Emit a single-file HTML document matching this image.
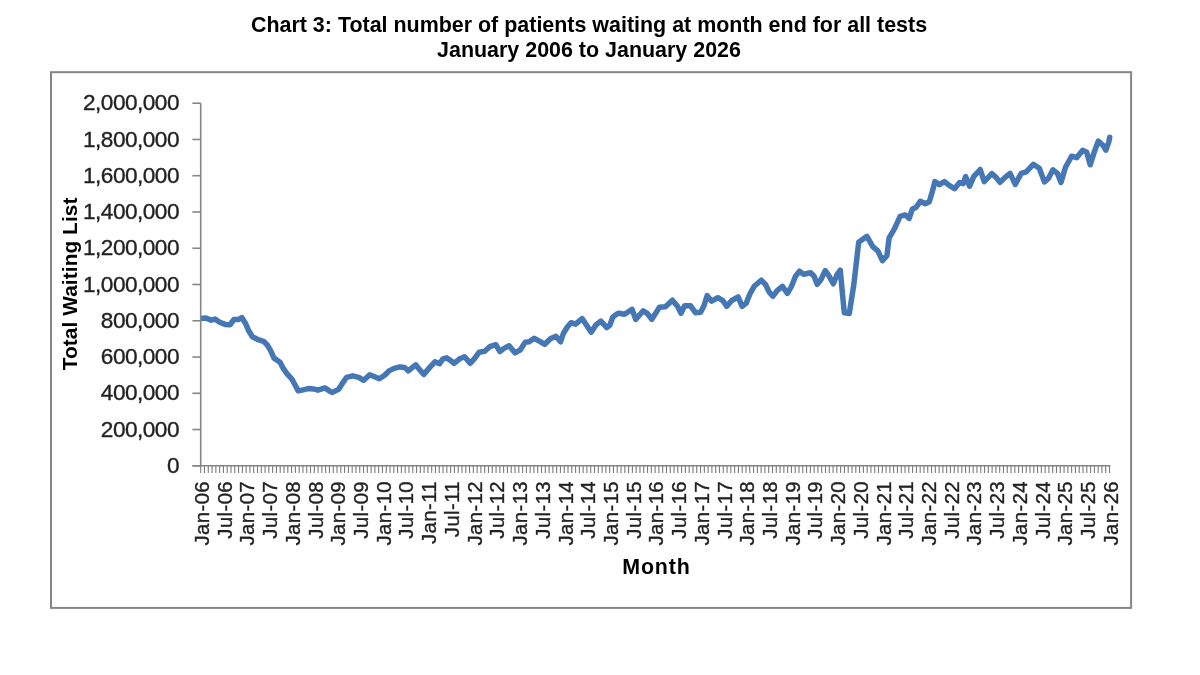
<!DOCTYPE html>
<html><head><meta charset="utf-8"><style>
html,body{margin:0;padding:0;background:#fff;width:1200px;height:675px;overflow:hidden}
svg{display:block;font-family:"Liberation Sans",sans-serif;filter:blur(0.45px)}
</style></head><body>
<svg width="1200" height="675" viewBox="0 0 1200 675">
<text x="589" y="31.8" text-anchor="middle" font-weight="bold" font-size="21.45" letter-spacing="0" fill="#000">Chart 3: Total number of patients waiting at month end for all tests</text>
<text x="589" y="56.8" text-anchor="middle" font-weight="bold" font-size="21.45" letter-spacing="0" fill="#000">January 2006 to January 2026</text>
<rect x="51" y="72.2" width="1080.1" height="535.7" fill="none" stroke="#868686" stroke-width="2"/>
<clipPath id="pc"><rect x="200.7" y="80" width="960" height="400"/></clipPath>
<path d="M200.5 318.6 L206.1 317.9 L211.1 320.2 L215.1 319.1 L219.7 322.2 L225.2 324.4 L230.2 324.7 L233.8 319.6 L238.3 319.6 L241.8 317.6 L245.4 323.2 L248.4 330.2 L252.4 336.8 L257.4 339.3 L263.5 341.3 L267.5 345.3 L270.5 350.4 L274.0 358.1 L280.1 362.2 L283.1 368.2 L287.1 373.8 L291.7 378.8 L294.7 384.3 L298.2 390.9 L303.2 389.9 L308.3 388.6 L313.3 388.9 L317.9 390.2 L324.9 387.9 L329.4 390.9 L332.5 392.4 L338.5 389.4 L342.5 383.3 L346.6 377.3 L352.6 375.8 L358.7 377.3 L363.7 380.3 L369.7 374.8 L375.8 377.3 L379.3 378.8 L385.0 375.0 L389.0 370.9 L394.1 368.4 L400.1 366.9 L404.6 367.4 L408.2 370.9 L415.7 364.8 L419.8 369.9 L423.8 374.4 L429.3 367.9 L434.9 361.8 L439.4 363.8 L442.9 358.8 L446.5 357.8 L450.5 360.3 L454.0 363.3 L459.6 358.8 L464.6 356.8 L470.1 363.3 L474.7 358.3 L479.2 352.2 L484.7 351.2 L489.8 346.7 L495.8 344.7 L499.9 351.5 L504.0 348.4 L509.1 345.8 L515.1 352.9 L520.2 349.9 L525.2 342.3 L529.2 341.8 L534.3 338.3 L539.8 341.3 L544.8 344.3 L550.4 338.8 L555.9 336.3 L560.5 341.8 L563.5 333.2 L567.5 326.7 L571.0 322.7 L575.6 324.2 L582.1 318.6 L586.6 325.2 L591.2 332.2 L595.7 325.2 L600.8 321.2 L606.8 327.7 L609.8 325.2 L612.8 317.1 L617.4 313.6 L619.0 313.3 L624.6 314.3 L632.1 309.3 L635.7 319.4 L643.2 310.8 L647.2 313.3 L651.8 319.4 L656.3 312.3 L659.3 307.3 L665.4 306.8 L672.4 300.2 L677.5 306.3 L681.0 313.3 L684.5 305.8 L690.6 305.8 L695.6 312.8 L700.6 312.3 L703.7 306.3 L707.2 295.7 L711.7 301.2 L717.8 297.7 L722.8 300.7 L726.8 306.3 L731.9 300.2 L733.0 299.9 L738.1 296.9 L742.1 306.4 L746.1 303.4 L750.2 293.3 L754.2 286.3 L761.2 280.2 L765.3 284.3 L769.3 292.3 L772.8 296.3 L777.4 290.3 L782.4 286.3 L787.4 293.3 L791.5 286.3 L795.5 276.2 L799.5 271.2 L803.6 274.2 L810.6 272.7 L814.1 276.2 L817.2 284.3 L821.2 279.2 L825.2 270.7 L829.2 276.2 L833.3 283.8 L836.8 275.2 L840.3 270.2 L842.3 292.3 L844.3 312.8 L849.3 313.5 L853.9 284.0 L858.7 242.2 L866.9 236.3 L872.8 246.7 L878.0 251.1 L882.4 260.7 L886.9 255.6 L889.1 237.8 L894.3 229.1 L900.1 216.4 L905.2 214.9 L909.2 218.4 L912.2 209.3 L916.2 207.3 L920.3 201.3 L925.3 203.8 L929.3 201.8 L932.4 191.2 L934.9 181.6 L939.4 184.6 L944.4 181.6 L949.5 185.7 L954.5 188.7 L959.6 182.6 L963.1 183.6 L965.6 176.6 L969.6 186.2 L973.7 176.6 L980.2 169.5 L984.2 181.6 L991.8 173.6 L995.8 177.1 L1000.0 182.4 L1005.1 177.4 L1010.1 173.4 L1015.2 184.4 L1021.2 173.4 L1026.2 171.9 L1033.3 164.3 L1039.3 168.3 L1044.4 181.9 L1048.4 178.4 L1052.9 169.8 L1057.5 173.4 L1061.0 182.4 L1065.5 167.3 L1071.6 156.2 L1076.6 157.7 L1082.7 150.2 L1086.7 152.2 L1090.2 164.8 L1094.2 152.2 L1098.3 141.1 L1102.8 145.2 L1105.8 150.2 L1108.9 141.6 L1109.7 137.3" clip-path="url(#pc)" fill="none" stroke="#4677B5" stroke-width="5.5" stroke-linejoin="round" stroke-linecap="round"/>
<line x1="200.7" y1="103.2" x2="200.7" y2="465.8" stroke="#868686" stroke-width="1.6"/>
<line x1="192.4" y1="465.80" x2="200.7" y2="465.80" stroke="#868686" stroke-width="1.6"/>
<text x="179.0" y="472.94" text-anchor="end" font-size="22.6" letter-spacing="-0.5" fill="#222" stroke="#222" stroke-width="0.35">0</text>
<line x1="192.4" y1="429.54" x2="200.7" y2="429.54" stroke="#868686" stroke-width="1.6"/>
<text x="179.0" y="436.68" text-anchor="end" font-size="22.6" letter-spacing="-0.5" fill="#222" stroke="#222" stroke-width="0.35">200,000</text>
<line x1="192.4" y1="393.28" x2="200.7" y2="393.28" stroke="#868686" stroke-width="1.6"/>
<text x="179.0" y="400.42" text-anchor="end" font-size="22.6" letter-spacing="-0.5" fill="#222" stroke="#222" stroke-width="0.35">400,000</text>
<line x1="192.4" y1="357.02" x2="200.7" y2="357.02" stroke="#868686" stroke-width="1.6"/>
<text x="179.0" y="364.16" text-anchor="end" font-size="22.6" letter-spacing="-0.5" fill="#222" stroke="#222" stroke-width="0.35">600,000</text>
<line x1="192.4" y1="320.76" x2="200.7" y2="320.76" stroke="#868686" stroke-width="1.6"/>
<text x="179.0" y="327.90" text-anchor="end" font-size="22.6" letter-spacing="-0.5" fill="#222" stroke="#222" stroke-width="0.35">800,000</text>
<line x1="192.4" y1="284.50" x2="200.7" y2="284.50" stroke="#868686" stroke-width="1.6"/>
<text x="179.0" y="291.64" text-anchor="end" font-size="22.6" letter-spacing="-0.5" fill="#222" stroke="#222" stroke-width="0.35">1,000,000</text>
<line x1="192.4" y1="248.24" x2="200.7" y2="248.24" stroke="#868686" stroke-width="1.6"/>
<text x="179.0" y="255.38" text-anchor="end" font-size="22.6" letter-spacing="-0.5" fill="#222" stroke="#222" stroke-width="0.35">1,200,000</text>
<line x1="192.4" y1="211.98" x2="200.7" y2="211.98" stroke="#868686" stroke-width="1.6"/>
<text x="179.0" y="219.12" text-anchor="end" font-size="22.6" letter-spacing="-0.5" fill="#222" stroke="#222" stroke-width="0.35">1,400,000</text>
<line x1="192.4" y1="175.72" x2="200.7" y2="175.72" stroke="#868686" stroke-width="1.6"/>
<text x="179.0" y="182.86" text-anchor="end" font-size="22.6" letter-spacing="-0.5" fill="#222" stroke="#222" stroke-width="0.35">1,600,000</text>
<line x1="192.4" y1="139.46" x2="200.7" y2="139.46" stroke="#868686" stroke-width="1.6"/>
<text x="179.0" y="146.60" text-anchor="end" font-size="22.6" letter-spacing="-0.5" fill="#222" stroke="#222" stroke-width="0.35">1,800,000</text>
<line x1="192.4" y1="103.20" x2="200.7" y2="103.20" stroke="#868686" stroke-width="1.6"/>
<text x="179.0" y="110.34" text-anchor="end" font-size="22.6" letter-spacing="-0.5" fill="#222" stroke="#222" stroke-width="0.35">2,000,000</text>
<line x1="192.4" y1="465.8" x2="1110.4" y2="465.8" stroke="#868686" stroke-width="1.6"/>
<path d="M200.70 465.8V473M204.49 465.8V473M208.27 465.8V473M212.06 465.8V473M215.85 465.8V473M219.63 465.8V473M223.42 465.8V473M227.21 465.8V473M230.99 465.8V473M234.78 465.8V473M238.57 465.8V473M242.35 465.8V473M246.14 465.8V473M249.93 465.8V473M253.71 465.8V473M257.50 465.8V473M261.29 465.8V473M265.07 465.8V473M268.86 465.8V473M272.65 465.8V473M276.43 465.8V473M280.22 465.8V473M284.01 465.8V473M287.79 465.8V473M291.58 465.8V473M295.37 465.8V473M299.15 465.8V473M302.94 465.8V473M306.73 465.8V473M310.51 465.8V473M314.30 465.8V473M318.09 465.8V473M321.87 465.8V473M325.66 465.8V473M329.45 465.8V473M333.23 465.8V473M337.02 465.8V473M340.81 465.8V473M344.59 465.8V473M348.38 465.8V473M352.17 465.8V473M355.95 465.8V473M359.74 465.8V473M363.53 465.8V473M367.31 465.8V473M371.10 465.8V473M374.89 465.8V473M378.67 465.8V473M382.46 465.8V473M386.25 465.8V473M390.03 465.8V473M393.82 465.8V473M397.61 465.8V473M401.39 465.8V473M405.18 465.8V473M408.97 465.8V473M412.75 465.8V473M416.54 465.8V473M420.33 465.8V473M424.11 465.8V473M427.90 465.8V473M431.69 465.8V473M435.47 465.8V473M439.26 465.8V473M443.05 465.8V473M446.83 465.8V473M450.62 465.8V473M454.41 465.8V473M458.19 465.8V473M461.98 465.8V473M465.77 465.8V473M469.55 465.8V473M473.34 465.8V473M477.13 465.8V473M480.91 465.8V473M484.70 465.8V473M488.49 465.8V473M492.27 465.8V473M496.06 465.8V473M499.85 465.8V473M503.63 465.8V473M507.42 465.8V473M511.21 465.8V473M514.99 465.8V473M518.78 465.8V473M522.57 465.8V473M526.35 465.8V473M530.14 465.8V473M533.93 465.8V473M537.71 465.8V473M541.50 465.8V473M545.29 465.8V473M549.07 465.8V473M552.86 465.8V473M556.65 465.8V473M560.43 465.8V473M564.22 465.8V473M568.01 465.8V473M571.79 465.8V473M575.58 465.8V473M579.37 465.8V473M583.15 465.8V473M586.94 465.8V473M590.73 465.8V473M594.51 465.8V473M598.30 465.8V473M602.09 465.8V473M605.87 465.8V473M609.66 465.8V473M613.45 465.8V473M617.23 465.8V473M621.02 465.8V473M624.81 465.8V473M628.59 465.8V473M632.38 465.8V473M636.17 465.8V473M639.95 465.8V473M643.74 465.8V473M647.53 465.8V473M651.31 465.8V473M655.10 465.8V473M658.89 465.8V473M662.67 465.8V473M666.46 465.8V473M670.25 465.8V473M674.03 465.8V473M677.82 465.8V473M681.61 465.8V473M685.39 465.8V473M689.18 465.8V473M692.97 465.8V473M696.75 465.8V473M700.54 465.8V473M704.33 465.8V473M708.11 465.8V473M711.90 465.8V473M715.69 465.8V473M719.47 465.8V473M723.26 465.8V473M727.05 465.8V473M730.83 465.8V473M734.62 465.8V473M738.41 465.8V473M742.19 465.8V473M745.98 465.8V473M749.77 465.8V473M753.55 465.8V473M757.34 465.8V473M761.13 465.8V473M764.91 465.8V473M768.70 465.8V473M772.49 465.8V473M776.27 465.8V473M780.06 465.8V473M783.85 465.8V473M787.63 465.8V473M791.42 465.8V473M795.21 465.8V473M798.99 465.8V473M802.78 465.8V473M806.57 465.8V473M810.35 465.8V473M814.14 465.8V473M817.93 465.8V473M821.71 465.8V473M825.50 465.8V473M829.29 465.8V473M833.07 465.8V473M836.86 465.8V473M840.65 465.8V473M844.43 465.8V473M848.22 465.8V473M852.01 465.8V473M855.79 465.8V473M859.58 465.8V473M863.37 465.8V473M867.15 465.8V473M870.94 465.8V473M874.73 465.8V473M878.51 465.8V473M882.30 465.8V473M886.09 465.8V473M889.87 465.8V473M893.66 465.8V473M897.45 465.8V473M901.23 465.8V473M905.02 465.8V473M908.81 465.8V473M912.59 465.8V473M916.38 465.8V473M920.17 465.8V473M923.95 465.8V473M927.74 465.8V473M931.53 465.8V473M935.31 465.8V473M939.10 465.8V473M942.89 465.8V473M946.67 465.8V473M950.46 465.8V473M954.25 465.8V473M958.03 465.8V473M961.82 465.8V473M965.61 465.8V473M969.39 465.8V473M973.18 465.8V473M976.97 465.8V473M980.75 465.8V473M984.54 465.8V473M988.33 465.8V473M992.11 465.8V473M995.90 465.8V473M999.69 465.8V473M1003.47 465.8V473M1007.26 465.8V473M1011.05 465.8V473M1014.83 465.8V473M1018.62 465.8V473M1022.41 465.8V473M1026.19 465.8V473M1029.98 465.8V473M1033.77 465.8V473M1037.55 465.8V473M1041.34 465.8V473M1045.13 465.8V473M1048.91 465.8V473M1052.70 465.8V473M1056.49 465.8V473M1060.27 465.8V473M1064.06 465.8V473M1067.85 465.8V473M1071.63 465.8V473M1075.42 465.8V473M1079.21 465.8V473M1082.99 465.8V473M1086.78 465.8V473M1090.57 465.8V473M1094.35 465.8V473M1098.14 465.8V473M1101.93 465.8V473M1105.71 465.8V473M1109.50 465.8V473" stroke="#7a7a7a" stroke-width="1.1"/>
<text transform="translate(209.00,481) rotate(-90)" text-anchor="end" font-size="20.3" letter-spacing="0.4" fill="#222" stroke="#222" stroke-width="0.35">Jan-06</text>
<text transform="translate(231.72,481) rotate(-90)" text-anchor="end" font-size="20.3" letter-spacing="0.4" fill="#222" stroke="#222" stroke-width="0.35">Jul-06</text>
<text transform="translate(254.44,481) rotate(-90)" text-anchor="end" font-size="20.3" letter-spacing="0.4" fill="#222" stroke="#222" stroke-width="0.35">Jan-07</text>
<text transform="translate(277.16,481) rotate(-90)" text-anchor="end" font-size="20.3" letter-spacing="0.4" fill="#222" stroke="#222" stroke-width="0.35">Jul-07</text>
<text transform="translate(299.88,481) rotate(-90)" text-anchor="end" font-size="20.3" letter-spacing="0.4" fill="#222" stroke="#222" stroke-width="0.35">Jan-08</text>
<text transform="translate(322.60,481) rotate(-90)" text-anchor="end" font-size="20.3" letter-spacing="0.4" fill="#222" stroke="#222" stroke-width="0.35">Jul-08</text>
<text transform="translate(345.32,481) rotate(-90)" text-anchor="end" font-size="20.3" letter-spacing="0.4" fill="#222" stroke="#222" stroke-width="0.35">Jan-09</text>
<text transform="translate(368.04,481) rotate(-90)" text-anchor="end" font-size="20.3" letter-spacing="0.4" fill="#222" stroke="#222" stroke-width="0.35">Jul-09</text>
<text transform="translate(390.76,481) rotate(-90)" text-anchor="end" font-size="20.3" letter-spacing="0.4" fill="#222" stroke="#222" stroke-width="0.35">Jan-10</text>
<text transform="translate(413.48,481) rotate(-90)" text-anchor="end" font-size="20.3" letter-spacing="0.4" fill="#222" stroke="#222" stroke-width="0.35">Jul-10</text>
<text transform="translate(436.20,481) rotate(-90)" text-anchor="end" font-size="20.3" letter-spacing="0.4" fill="#222" stroke="#222" stroke-width="0.35">Jan-11</text>
<text transform="translate(458.92,481) rotate(-90)" text-anchor="end" font-size="20.3" letter-spacing="0.4" fill="#222" stroke="#222" stroke-width="0.35">Jul-11</text>
<text transform="translate(481.64,481) rotate(-90)" text-anchor="end" font-size="20.3" letter-spacing="0.4" fill="#222" stroke="#222" stroke-width="0.35">Jan-12</text>
<text transform="translate(504.36,481) rotate(-90)" text-anchor="end" font-size="20.3" letter-spacing="0.4" fill="#222" stroke="#222" stroke-width="0.35">Jul-12</text>
<text transform="translate(527.08,481) rotate(-90)" text-anchor="end" font-size="20.3" letter-spacing="0.4" fill="#222" stroke="#222" stroke-width="0.35">Jan-13</text>
<text transform="translate(549.80,481) rotate(-90)" text-anchor="end" font-size="20.3" letter-spacing="0.4" fill="#222" stroke="#222" stroke-width="0.35">Jul-13</text>
<text transform="translate(572.52,481) rotate(-90)" text-anchor="end" font-size="20.3" letter-spacing="0.4" fill="#222" stroke="#222" stroke-width="0.35">Jan-14</text>
<text transform="translate(595.24,481) rotate(-90)" text-anchor="end" font-size="20.3" letter-spacing="0.4" fill="#222" stroke="#222" stroke-width="0.35">Jul-14</text>
<text transform="translate(617.96,481) rotate(-90)" text-anchor="end" font-size="20.3" letter-spacing="0.4" fill="#222" stroke="#222" stroke-width="0.35">Jan-15</text>
<text transform="translate(640.68,481) rotate(-90)" text-anchor="end" font-size="20.3" letter-spacing="0.4" fill="#222" stroke="#222" stroke-width="0.35">Jul-15</text>
<text transform="translate(663.40,481) rotate(-90)" text-anchor="end" font-size="20.3" letter-spacing="0.4" fill="#222" stroke="#222" stroke-width="0.35">Jan-16</text>
<text transform="translate(686.12,481) rotate(-90)" text-anchor="end" font-size="20.3" letter-spacing="0.4" fill="#222" stroke="#222" stroke-width="0.35">Jul-16</text>
<text transform="translate(708.84,481) rotate(-90)" text-anchor="end" font-size="20.3" letter-spacing="0.4" fill="#222" stroke="#222" stroke-width="0.35">Jan-17</text>
<text transform="translate(731.56,481) rotate(-90)" text-anchor="end" font-size="20.3" letter-spacing="0.4" fill="#222" stroke="#222" stroke-width="0.35">Jul-17</text>
<text transform="translate(754.28,481) rotate(-90)" text-anchor="end" font-size="20.3" letter-spacing="0.4" fill="#222" stroke="#222" stroke-width="0.35">Jan-18</text>
<text transform="translate(777.00,481) rotate(-90)" text-anchor="end" font-size="20.3" letter-spacing="0.4" fill="#222" stroke="#222" stroke-width="0.35">Jul-18</text>
<text transform="translate(799.72,481) rotate(-90)" text-anchor="end" font-size="20.3" letter-spacing="0.4" fill="#222" stroke="#222" stroke-width="0.35">Jan-19</text>
<text transform="translate(822.44,481) rotate(-90)" text-anchor="end" font-size="20.3" letter-spacing="0.4" fill="#222" stroke="#222" stroke-width="0.35">Jul-19</text>
<text transform="translate(845.16,481) rotate(-90)" text-anchor="end" font-size="20.3" letter-spacing="0.4" fill="#222" stroke="#222" stroke-width="0.35">Jan-20</text>
<text transform="translate(867.88,481) rotate(-90)" text-anchor="end" font-size="20.3" letter-spacing="0.4" fill="#222" stroke="#222" stroke-width="0.35">Jul-20</text>
<text transform="translate(890.60,481) rotate(-90)" text-anchor="end" font-size="20.3" letter-spacing="0.4" fill="#222" stroke="#222" stroke-width="0.35">Jan-21</text>
<text transform="translate(913.32,481) rotate(-90)" text-anchor="end" font-size="20.3" letter-spacing="0.4" fill="#222" stroke="#222" stroke-width="0.35">Jul-21</text>
<text transform="translate(936.04,481) rotate(-90)" text-anchor="end" font-size="20.3" letter-spacing="0.4" fill="#222" stroke="#222" stroke-width="0.35">Jan-22</text>
<text transform="translate(958.76,481) rotate(-90)" text-anchor="end" font-size="20.3" letter-spacing="0.4" fill="#222" stroke="#222" stroke-width="0.35">Jul-22</text>
<text transform="translate(981.48,481) rotate(-90)" text-anchor="end" font-size="20.3" letter-spacing="0.4" fill="#222" stroke="#222" stroke-width="0.35">Jan-23</text>
<text transform="translate(1004.20,481) rotate(-90)" text-anchor="end" font-size="20.3" letter-spacing="0.4" fill="#222" stroke="#222" stroke-width="0.35">Jul-23</text>
<text transform="translate(1026.92,481) rotate(-90)" text-anchor="end" font-size="20.3" letter-spacing="0.4" fill="#222" stroke="#222" stroke-width="0.35">Jan-24</text>
<text transform="translate(1049.64,481) rotate(-90)" text-anchor="end" font-size="20.3" letter-spacing="0.4" fill="#222" stroke="#222" stroke-width="0.35">Jul-24</text>
<text transform="translate(1072.36,481) rotate(-90)" text-anchor="end" font-size="20.3" letter-spacing="0.4" fill="#222" stroke="#222" stroke-width="0.35">Jan-25</text>
<text transform="translate(1095.08,481) rotate(-90)" text-anchor="end" font-size="20.3" letter-spacing="0.4" fill="#222" stroke="#222" stroke-width="0.35">Jul-25</text>
<text transform="translate(1117.80,481) rotate(-90)" text-anchor="end" font-size="20.3" letter-spacing="0.4" fill="#222" stroke="#222" stroke-width="0.35">Jan-26</text>
<text transform="translate(76.8,283.9) rotate(-90)" text-anchor="middle" font-weight="bold" font-size="20.8" letter-spacing="0.1" fill="#000">Total Waiting List</text>
<text x="656.5" y="573.6" text-anchor="middle" font-weight="bold" font-size="21.4" letter-spacing="0.9" fill="#000">Month</text>
</svg>
</body></html>
